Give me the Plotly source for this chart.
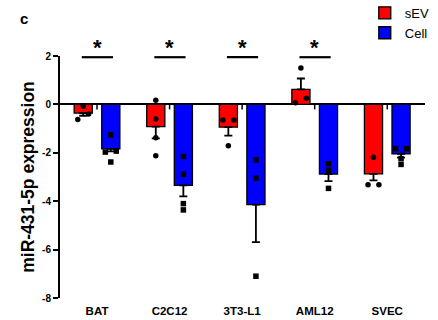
import plotly.graph_objects as go

# ---------------- data ----------------
categories = ["BAT", "C2C12", "3T3-L1", "AML12", "SVEC"]
sev_mean = [-0.36, -0.92, -0.94, 0.62, -2.87]
sev_sem = [0.11, 0.48, 0.35, 0.45, 0.27]
cell_mean = [-1.84, -3.35, -4.14, -2.88, -2.04]
cell_sem = [0.10, 0.45, 1.55, 0.29, 0.16]
sev_points = [
    [-0.08, -0.40, -0.62],
    [0.17, -0.60, -1.38, -2.12],
    [-0.64, -0.64, -1.71],
    [1.50, 0.25, 0.07],
    [-2.18, -3.32, -3.32],
]
cell_points = [
    [-1.26, -1.93, -1.97, -2.38],
    [-2.15, -2.89, -4.10, -4.36],
    [-2.29, -3.05, -7.10],
    [-2.45, -2.72, -3.47],
    [-1.83, -1.83, -2.24, -2.48],
]
significant = [True, True, True, True, False]
y_ticks = [2, 0, -2, -4, -6, -8]

# ---------------- layout helpers ----------------
FONT = "Arial, Liberation Sans, sans-serif"
OFFSET = 0.19      # bar centre offset from category centre (axis units)
BAR_W = 0.25
SPREAD = 0.075
RED = "#ff0000"
BLUE = "#0000ff"

idx = list(range(len(categories)))


def swarm(values, centre):
    """Spread overlapping points sideways (simple beeswarm)."""
    order = sorted(range(len(values)), key=lambda k: values[k])
    xs = [centre] * len(values)
    clusters, cur = [], [order[0]]
    for a, b in zip(order, order[1:]):
        if abs(values[b] - values[a]) < 0.23:
            cur.append(b)
        else:
            clusters.append(cur)
            cur = [b]
    clusters.append(cur)
    for cl in clusters:
        n = len(cl)
        for j, k in enumerate(cl):
            xs[k] = centre + (j - (n - 1) / 2) * SPREAD * 2 / max(n - 1, 1) if n > 1 else centre
    return xs


fig = go.Figure()


def add_series(name, means, sems, pts, sign, color, symbol):
    xb = [i + sign * OFFSET for i in idx]
    plus = [s if m > 0 else 0 for m, s in zip(means, sems)]
    minus = [s if m < 0 else 0 for m, s in zip(means, sems)]
    fig.add_trace(go.Bar(
        x=xb, y=means, width=BAR_W, name=name,
        marker=dict(color=color, line=dict(color="black", width=1.3)),
        error_y=dict(type="data", symmetric=False, array=plus, arrayminus=minus,
                     color="black", thickness=1.8, width=4),
    ))
    px, py = [], []
    for i, vals in zip(xb, pts):
        px += swarm(vals, i)
        py += vals
    fig.add_trace(go.Scatter(
        x=px, y=py, mode="markers", showlegend=False, hoverinfo="skip",
        marker=dict(color="black", size=5.5, symbol=symbol),
        cliponaxis=False,
    ))


add_series("sEV", sev_mean, sev_sem, sev_points, -1, RED, "circle")
add_series("Cell", cell_mean, cell_sem, cell_points, +1, BLUE, "square")

# significance brackets and stars
for i, sig in zip(idx, significant):
    if not sig:
        continue
    fig.add_shape(type="line", xref="x", yref="y", x0=i - 0.21, x1=i + 0.22,
                  y0=1.95, y1=1.95, line=dict(color="black", width=2.2))
    fig.add_annotation(x=i, y=1.95, xref="x", yref="y", text="<b>*</b>",
                       showarrow=False, yanchor="bottom", yshift=-5,
                       font=dict(family=FONT, size=22, color="black"))

# small category ticks on the zero line
for i in idx:
    fig.add_shape(type="line", xref="x", yref="y", x0=i, x1=i,
                  ysizemode="pixel", yanchor=0, y0=0, y1=-5,
                  line=dict(color="black", width=1.5))

# panel letter
fig.add_annotation(xref="paper", yref="paper", x=-0.1, y=1.155, text="<b>c</b>",
                   showarrow=False, xanchor="center", yanchor="middle",
                   font=dict(family=FONT, size=15, color="black"))

fig.update_layout(
    width=438, height=320,
    margin=dict(l=60, r=13, t=56, b=22, autoexpand=False),
    paper_bgcolor="white", plot_bgcolor="white",
    barmode="overlay",
    font=dict(family=FONT, color="black"),
    showlegend=True,
    legend=dict(x=0.835, y=1.24, xanchor="left", yanchor="top",
                bgcolor="rgba(0,0,0,0)", font=dict(family=FONT, size=13),
                itemwidth=30),
)
fig.update_xaxes(
    range=[-0.51, 4.52], tickmode="array", tickvals=idx,
    ticktext=[f"<b>{c}</b>" for c in categories],
    showline=False, showgrid=False, zeroline=False, ticks="",
    tickfont=dict(family=FONT, size=11.5, color="black"), automargin=False,
    ticklabelstandoff=4,
)
fig.update_yaxes(
    range=[-8, 2], tickmode="array", tickvals=y_ticks,
    ticktext=[f"<b>{t}</b>" for t in y_ticks],
    showline=True, linecolor="black", linewidth=2,
    ticks="outside", ticklen=5, tickwidth=1.8, tickcolor="black",
    showgrid=False, zeroline=True, zerolinecolor="black", zerolinewidth=2,
    tickfont=dict(family=FONT, size=10, color="black"), automargin=False,
    title=dict(text="<b>miR-431-5p expression</b>", standoff=3,
               font=dict(family=FONT, size=17.5, color="black")),
)

fig.write_html("out.html", config={"displayModeBar": False},
               post_script="document.body.style.margin='0';document.body.style.overflow='hidden';")
